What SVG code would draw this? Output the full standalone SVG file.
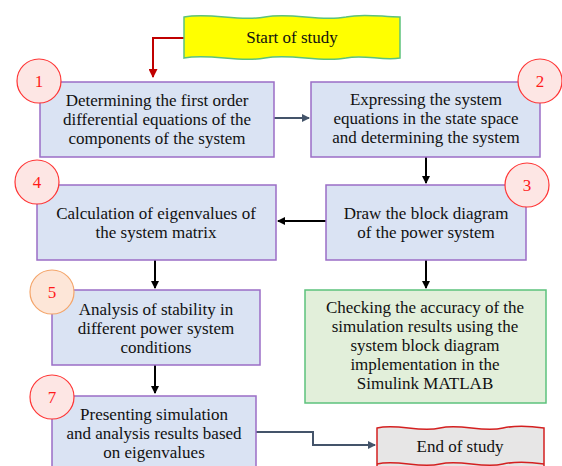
<svg xmlns="http://www.w3.org/2000/svg" width="562" height="466" viewBox="0 0 562 466">
<style>
.box{fill:#dae3f3;stroke:#9b6dc6;stroke-width:1.5}
.grn{fill:#e2efda;stroke:#5cc27c;stroke-width:1.5}
.num{fill:#fde6e4;stroke:#ff3535;stroke-width:1.2}
.numo{fill:#fde6d8;stroke:#f4a56a;stroke-width:1.2}
text{font-family:"Liberation Serif","Times New Roman",serif;font-size:17px;fill:#111;text-anchor:middle}
.n{fill:#ff1a1a;font-size:17px}
.ln{fill:none;stroke:#000;stroke-width:2}
.sl{fill:none;stroke:#44546a;stroke-width:2}
.rd{fill:none;stroke:#c00000;stroke-width:2}
</style>
<defs>
<marker id="ab" markerWidth="8" markerHeight="8" refX="7" refY="4" orient="auto" markerUnits="userSpaceOnUse" viewBox="0 0 8 8"><path d="M0,0 L8,4 L0,8 Z" fill="#000"/></marker>
<marker id="as" markerWidth="8" markerHeight="8" refX="7" refY="4" orient="auto" markerUnits="userSpaceOnUse" viewBox="0 0 8 8"><path d="M0,0 L8,4 L0,8 Z" fill="#44546a"/></marker>
<marker id="ar" markerWidth="9" markerHeight="9" refX="8" refY="4.5" orient="auto" markerUnits="userSpaceOnUse" viewBox="0 0 9 9"><path d="M0,0 L9,4.5 L0,9 Z" fill="#c00000"/></marker>
</defs>
<g id="connectors">
<path class="rd" d="M185,38 H153 V77" marker-end="url(#ar)"/>
<path class="sl" d="M274,118 H309" marker-end="url(#as)"/>
<path class="ln" d="M426,157 V183" marker-end="url(#ab)"/>
<path class="ln" d="M326,221 H278" marker-end="url(#ab)"/>
<path class="ln" d="M155,260 V288" marker-end="url(#ab)"/>
<path class="ln" d="M426,260 V288" marker-end="url(#ab)"/>
<path class="ln" d="M155,365 V393" marker-end="url(#ab)"/>
<path class="sl" d="M256,432 H313 V445 H375" marker-end="url(#as)"/>
</g>
<g id="start">
<path d="M184,17 C211,12 238,22 265,17 C292,12 319,22 346,17 C364,13 382,17 400,17 L400,58 C382,61 364,54 346,58 C319,63 292,53 265,58 C238,63 211,53 184,58 Z" fill="#ffff00" stroke="#5cc27c" stroke-width="1.5"/>
<text x="292" y="43">Start of study</text>
</g>
<g id="n1">
<rect class="box" x="40" y="82" width="234" height="75"/>
<text x="157" y="106">Determining the first order</text>
<text x="157" y="125">differential equations of the</text>
<text x="157" y="144">components of the system</text>
<circle class="num" cx="39" cy="81" r="22"/>
<text class="n" x="39" y="87">1</text>
</g>
<g id="n2">
<rect class="box" x="311" y="82" width="229" height="75"/>
<text x="426" y="105">Expressing the system</text>
<text x="426" y="124">equations in the state space</text>
<text x="426" y="143">and determining the system</text>
<circle class="num" cx="540" cy="81" r="22"/>
<text class="n" x="540" y="87">2</text>
</g>
<g id="n3">
<rect class="box" x="326" y="185" width="200" height="75"/>
<text x="426" y="219">Draw the block diagram</text>
<text x="426" y="238">of the power system</text>
<circle class="num" cx="527" cy="185" r="22"/>
<text class="n" x="527" y="191">3</text>
</g>
<g id="n4">
<rect class="box" x="37" y="185" width="239" height="75"/>
<text x="156" y="219">Calculation of eigenvalues of</text>
<text x="156" y="238">the system matrix</text>
<circle class="num" cx="37" cy="182" r="22"/>
<text class="n" x="37" y="188">4</text>
</g>
<g id="n5">
<rect class="box" x="52" y="290" width="208" height="75"/>
<text x="156" y="315">Analysis of stability in</text>
<text x="156" y="334">different power system</text>
<text x="156" y="353">conditions</text>
<circle class="numo" cx="52" cy="292" r="22"/>
<text class="n" x="52" y="298">5</text>
</g>
<g id="n6">
<rect class="grn" x="305" y="290" width="241" height="113"/>
<text x="425" y="313">Checking the accuracy of the</text>
<text x="425" y="332">simulation results using the</text>
<text x="425" y="351">system block diagram</text>
<text x="425" y="370">implementation in the</text>
<text x="425" y="389">Simulink MATLAB</text>
</g>
<g id="n7">
<rect class="box" x="52" y="396" width="204" height="80"/>
<text x="154" y="420">Presenting simulation</text>
<text x="154" y="439">and analysis results based</text>
<text x="154" y="458">on eigenvalues</text>
<circle class="num" cx="52" cy="397" r="22"/>
<text class="n" x="52" y="403">7</text>
</g>
<g id="end">
<path d="M377,428 C398,423 419,433 440,428 C461,423 482,433 503,428 C517,425 530,426 544,428 L544,470 L377,470 Z" fill="#e7e6e6" stroke="#d42020" stroke-width="1.5"/>
<path d="M377,464 C398,459 419,469 440,464 C461,459 482,469 503,464 C517,461 530,462 544,464" fill="none" stroke="#d42020" stroke-width="1.5"/>
<text x="460" y="452">End of study</text>
</g>
</svg>
